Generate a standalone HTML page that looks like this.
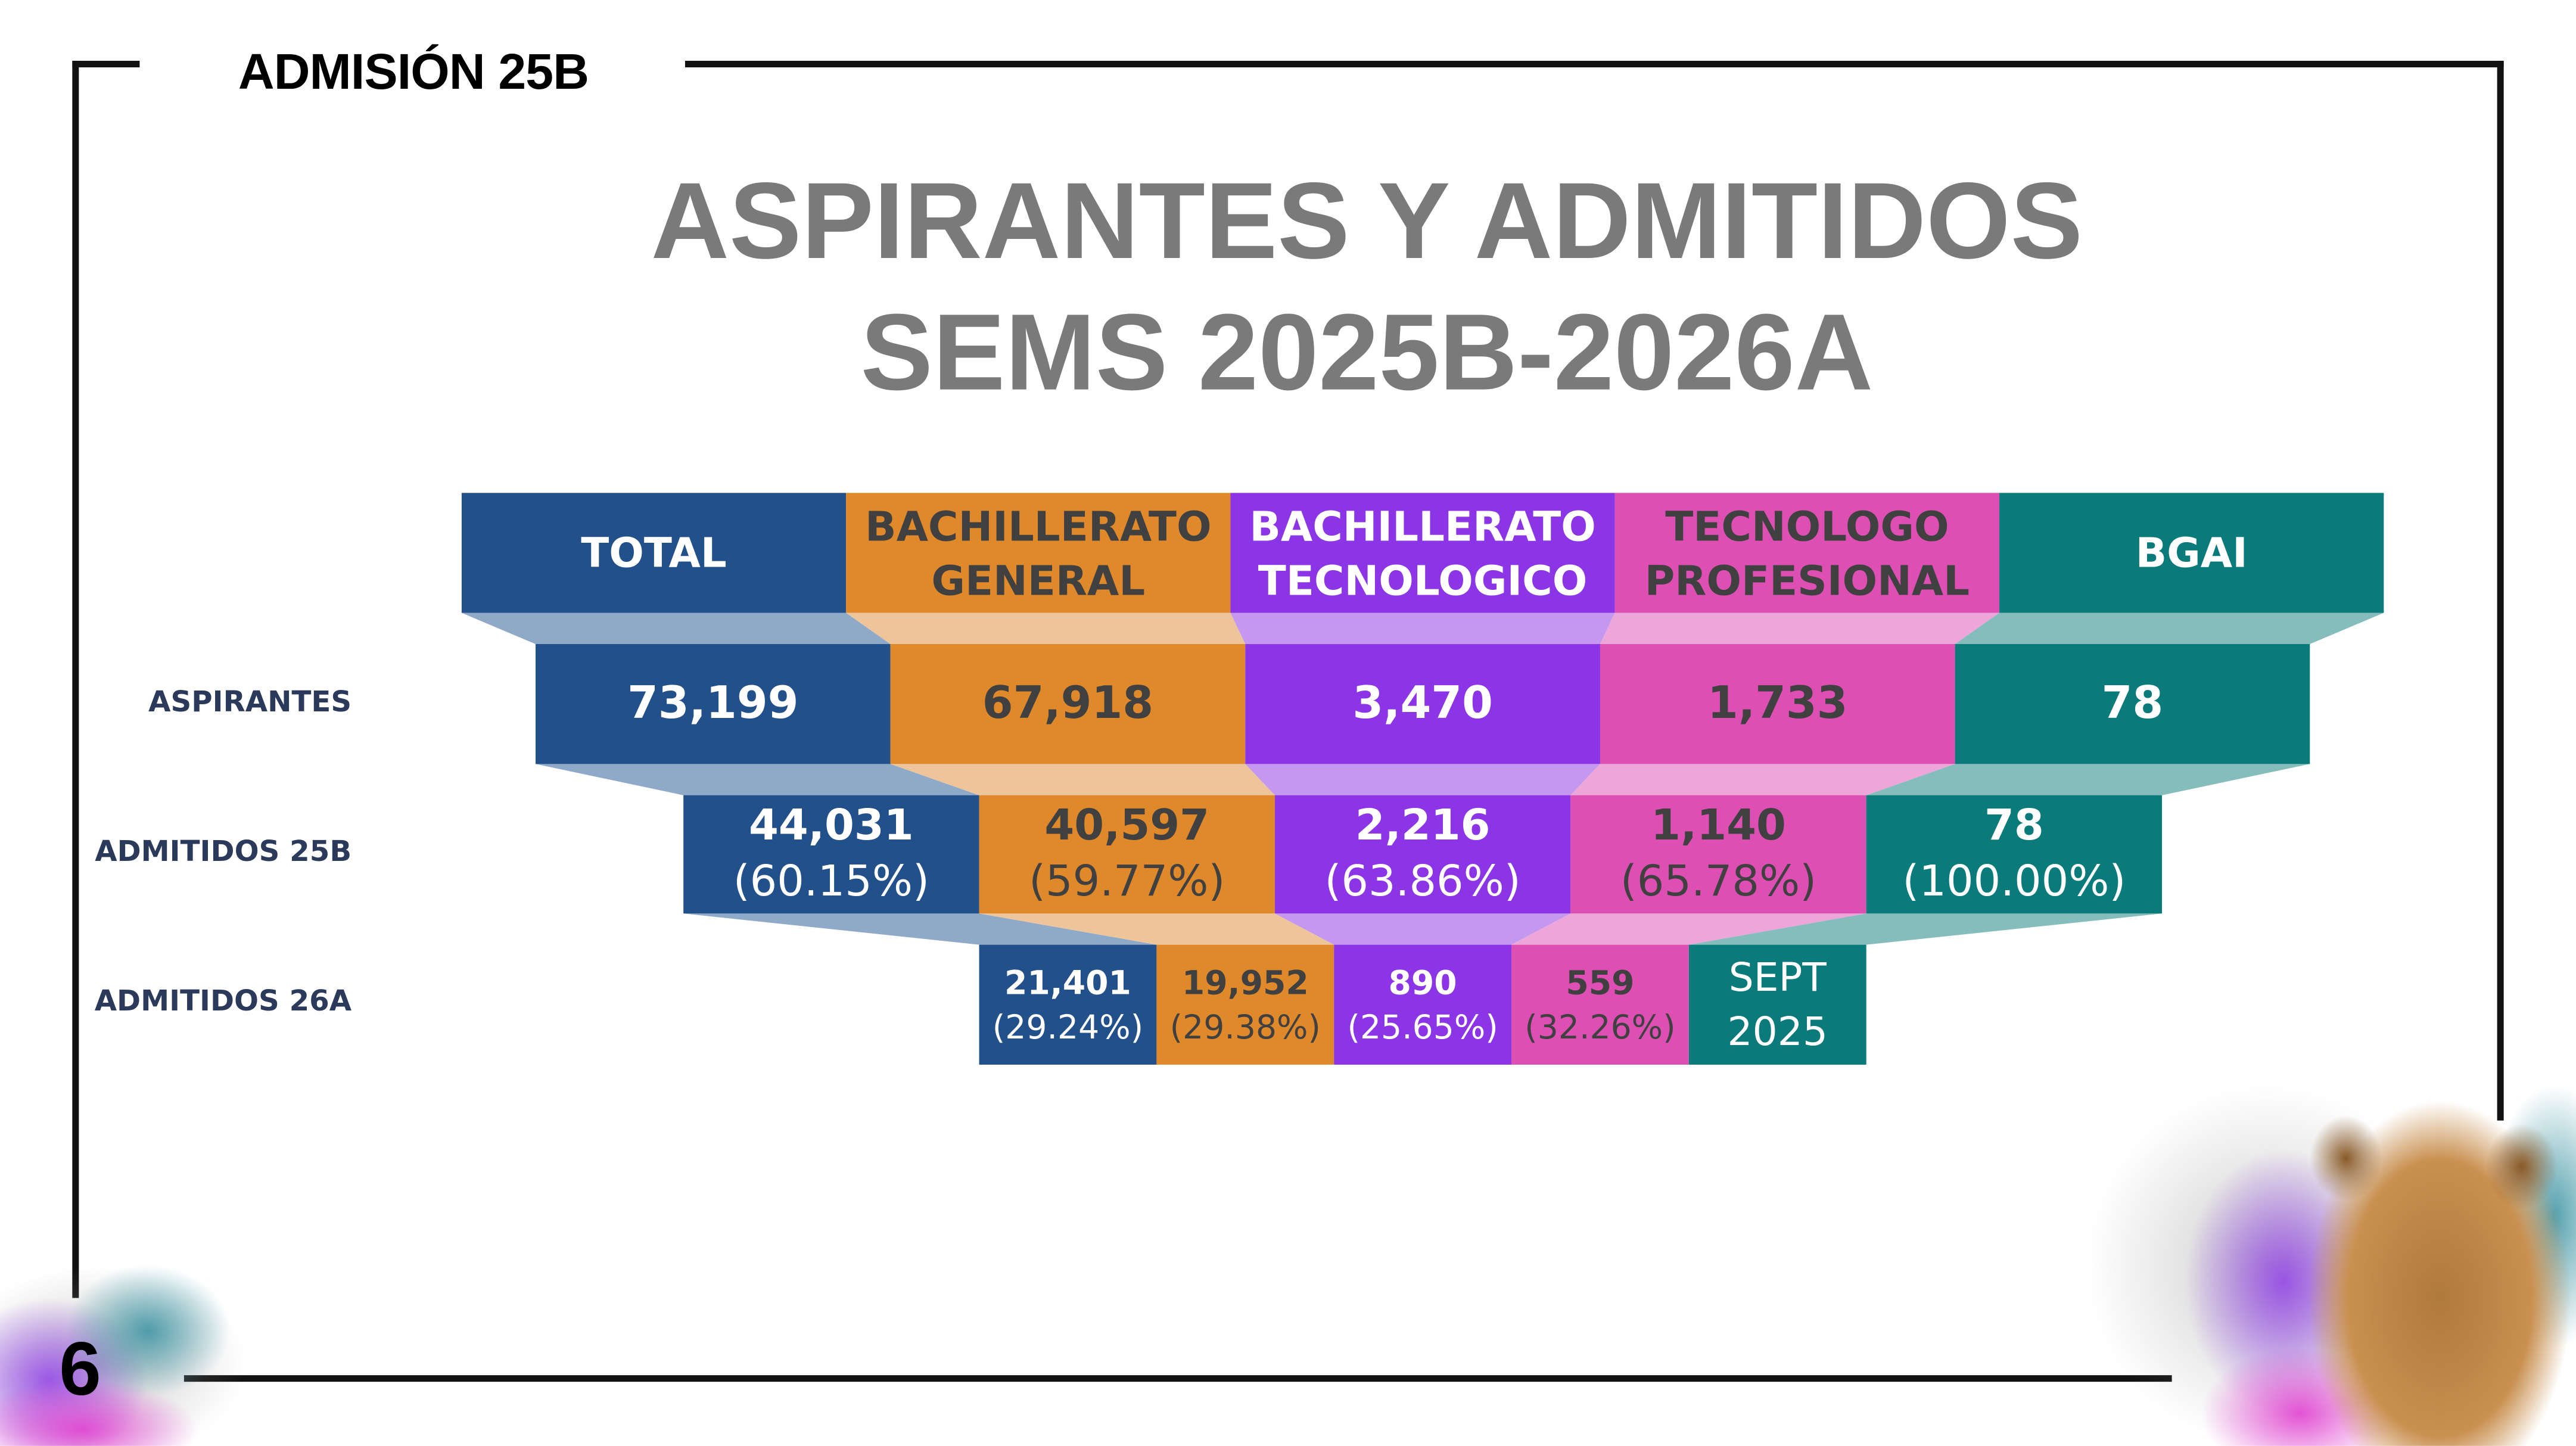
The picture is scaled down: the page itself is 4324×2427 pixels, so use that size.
<!DOCTYPE html>
<html><head><meta charset="utf-8"><style>
html,body{margin:0;padding:0;background:#fff;overflow:hidden;width:4324px;height:2426px}
#w{position:absolute;left:0;top:0;width:1568px;height:880px;transform:scale(2.75765);transform-origin:0 0;font-family:"DejaVu Sans",sans-serif}
.a{position:absolute}
.l{position:absolute;background:#111}
.c{position:absolute;display:flex;flex-direction:column;align-items:center;justify-content:center;text-align:center;font-weight:bold;box-sizing:border-box;white-space:nowrap}
.B{background:#22508a;color:#fff}.O{background:#e0892b;color:#404040}.P{background:#8b35e6;color:#fff}.K{background:#de4fb4;color:#404040}.T{background:#0b7a7a;color:#fff}
.lab{position:absolute;right:1354px;font-weight:bold;font-size:17.5px;color:#2b3a5a}
.n{font-weight:normal}
</style></head><body><div id="w">
<div class="l" style="left:44px;top:37px;width:4px;height:753px"></div>
<div class="l" style="left:44px;top:37px;width:41px;height:4px"></div>
<div class="l" style="left:417px;top:37px;width:1107px;height:4px"></div>
<div class="l" style="left:1520px;top:37px;width:4px;height:645px"></div>
<div class="l" style="left:112px;top:837px;width:1210px;height:4px"></div>
<div class="a" style="left:145px;top:27px;font-family:'Liberation Sans',sans-serif;font-weight:bold;font-size:30.5px;letter-spacing:-0.3px;color:#000">ADMISIÓN 25B</div>
<div class="a" style="left:0;width:1664px;top:94px;text-align:center;font-family:'Liberation Sans',sans-serif;font-weight:bold;font-size:66px;line-height:80px;color:#7a7a7a">ASPIRANTES Y ADMITIDOS<br>SEMS 2025B-2026A</div>

<svg class="a" style="left:0;top:0" width="1568" height="880">
<g opacity="1">
<polygon points="281,373 515,373 542,392 326,392" fill="#8fa9c8"/>
<polygon points="515,373 749,373 758,392 542,392" fill="#eec59a"/>
<polygon points="749,373 983,373 974,392 758,392" fill="#c598f0"/>
<polygon points="983,373 1217,373 1190,392 974,392" fill="#eea6da"/>
<polygon points="1217,373 1451,373 1406,392 1190,392" fill="#85bdbd"/>
<polygon points="326,465 542,465 596,484 416,484" fill="#8fa9c8"/>
<polygon points="542,465 758,465 776,484 596,484" fill="#eec59a"/>
<polygon points="758,465 974,465 956,484 776,484" fill="#c598f0"/>
<polygon points="974,465 1190,465 1136,484 956,484" fill="#eea6da"/>
<polygon points="1190,465 1406,465 1316,484 1136,484" fill="#85bdbd"/>
<polygon points="416,556 596,556 704,575 596,575" fill="#8fa9c8"/>
<polygon points="596,556 776,556 812,575 704,575" fill="#eec59a"/>
<polygon points="776,556 956,556 920,575 812,575" fill="#c598f0"/>
<polygon points="956,556 1136,556 1028,575 920,575" fill="#eea6da"/>
<polygon points="1136,556 1316,556 1136,575 1028,575" fill="#85bdbd"/>
</g>
<defs>
<radialGradient id="g1"><stop offset="0" stop-color="#8b35e6" stop-opacity=".8"/><stop offset="1" stop-color="#8b35e6" stop-opacity="0"/></radialGradient>
<radialGradient id="g2"><stop offset="0" stop-color="#2a8a9a" stop-opacity=".8"/><stop offset="1" stop-color="#2a8a9a" stop-opacity="0"/></radialGradient>
<radialGradient id="g3"><stop offset="0" stop-color="#e040d0" stop-opacity=".9"/><stop offset="1" stop-color="#e040d0" stop-opacity="0"/></radialGradient>
<radialGradient id="g4"><stop offset="0" stop-color="#b07a3a"/><stop offset=".7" stop-color="#c99050"/><stop offset="1" stop-color="#c99050" stop-opacity="0"/></radialGradient>
<radialGradient id="g5"><stop offset="0" stop-color="#999" stop-opacity=".5"/><stop offset="1" stop-color="#999" stop-opacity="0"/></radialGradient>
<radialGradient id="g6"><stop offset="0" stop-color="#8a5a28"/><stop offset="1" stop-color="#8a5a28" stop-opacity="0"/></radialGradient>
</defs>
<ellipse cx="60" cy="830" rx="90" ry="60" fill="url(#g5)"/>
<ellipse cx="30" cy="840" rx="60" ry="50" fill="url(#g1)"/>
<ellipse cx="90" cy="810" rx="50" ry="40" fill="url(#g2)"/>
<ellipse cx="50" cy="870" rx="70" ry="30" fill="url(#g3)"/>
<ellipse cx="1380" cy="770" rx="110" ry="110" fill="url(#g5)"/>
<ellipse cx="1390" cy="780" rx="60" ry="80" fill="url(#g1)"/>
<ellipse cx="1400" cy="860" rx="60" ry="40" fill="url(#g3)"/>
<ellipse cx="1555" cy="740" rx="40" ry="80" fill="url(#g2)"/>
<ellipse cx="1485" cy="790" rx="80" ry="120" fill="url(#g4)"/>
<ellipse cx="1428" cy="705" rx="22" ry="26" fill="url(#g6)"/>
<ellipse cx="1535" cy="710" rx="22" ry="26" fill="url(#g6)"/>
</svg>
<div class="a" style="left:36px;top:806px;font-family:'Liberation Sans',sans-serif;font-weight:bold;font-size:46px;color:#000">6</div>

<div class="c B" style="left:281px;top:300px;width:234px;height:73px;font-size:25px">TOTAL</div>
<div class="c O" style="left:515px;top:300px;width:234px;height:73px;font-size:25px;line-height:33px">BACHILLERATO<br>GENERAL</div>
<div class="c P" style="left:749px;top:300px;width:234px;height:73px;font-size:25px;line-height:33px">BACHILLERATO<br>TECNOLOGICO</div>
<div class="c K" style="left:983px;top:300px;width:234px;height:73px;font-size:25px;line-height:33px">TECNOLOGO<br>PROFESIONAL</div>
<div class="c T" style="left:1217px;top:300px;width:234px;height:73px;font-size:25px">BGAI</div>

<div class="lab" style="top:418px">ASPIRANTES</div>
<div class="lab" style="top:509px">ADMITIDOS 25B</div>
<div class="lab" style="top:600px">ADMITIDOS 26A</div>

<div class="c B" style="left:326px;top:392px;width:216px;height:73px;font-size:27px">73,199</div>
<div class="c O" style="left:542px;top:392px;width:216px;height:73px;font-size:27px">67,918</div>
<div class="c P" style="left:758px;top:392px;width:216px;height:73px;font-size:27px">3,470</div>
<div class="c K" style="left:974px;top:392px;width:216px;height:73px;font-size:27px">1,733</div>
<div class="c T" style="left:1190px;top:392px;width:216px;height:73px;font-size:27px">78</div>

<div class="c B" style="left:416px;top:484px;width:180px;height:72px;font-size:26px;line-height:34px">44,031<span class="n">(60.15%)</span></div>
<div class="c O" style="left:596px;top:484px;width:180px;height:72px;font-size:26px;line-height:34px">40,597<span class="n">(59.77%)</span></div>
<div class="c P" style="left:776px;top:484px;width:180px;height:72px;font-size:26px;line-height:34px">2,216<span class="n">(63.86%)</span></div>
<div class="c K" style="left:956px;top:484px;width:180px;height:72px;font-size:26px;line-height:34px">1,140<span class="n">(65.78%)</span></div>
<div class="c T" style="left:1136px;top:484px;width:180px;height:72px;font-size:26px;line-height:34px">78<span class="n">(100.00%)</span></div>

<div class="c B" style="left:596px;top:575px;width:108px;height:73px;font-size:20px;line-height:27px">21,401<span class="n">(29.24%)</span></div>
<div class="c O" style="left:704px;top:575px;width:108px;height:73px;font-size:20px;line-height:27px">19,952<span class="n">(29.38%)</span></div>
<div class="c P" style="left:812px;top:575px;width:108px;height:73px;font-size:20px;line-height:27px">890<span class="n">(25.65%)</span></div>
<div class="c K" style="left:920px;top:575px;width:108px;height:73px;font-size:20px;line-height:27px">559<span class="n">(32.26%)</span></div>
<div class="c T" style="left:1028px;top:575px;width:108px;height:73px;font-size:24px;line-height:33px"><span class="n">SEPT</span><span class="n">2025</span></div>
</div></body></html>
